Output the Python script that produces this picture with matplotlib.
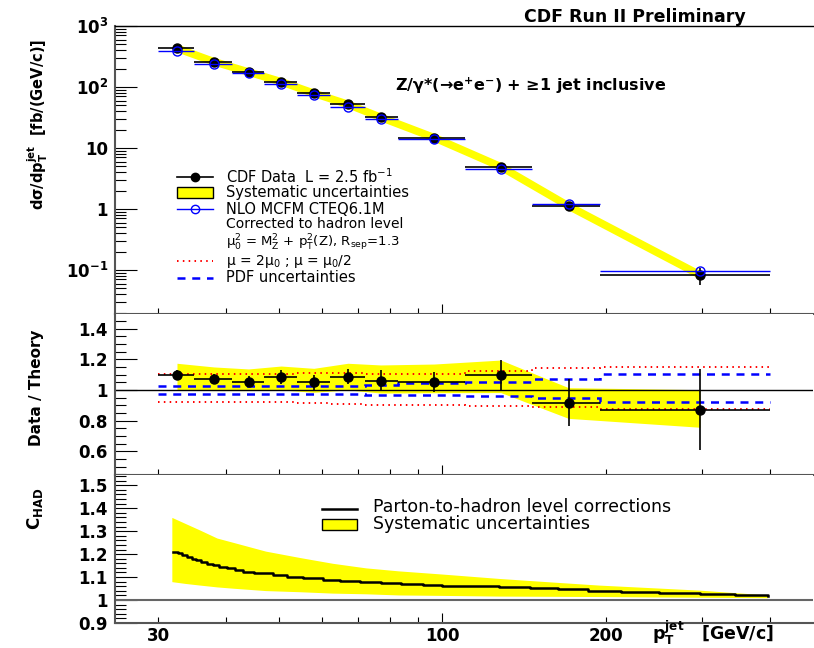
import numpy as np
import matplotlib
matplotlib.use("Agg")
import matplotlib.pyplot as plt
from matplotlib.lines import Line2D
from matplotlib.patches import Rectangle
from matplotlib.ticker import FixedLocator, FixedFormatter, FuncFormatter, MultipleLocator, LogLocator, NullFormatter

plt.rcParams['font.family'] = ['DejaVu Sans']
plt.rcParams['font.weight'] = 'bold'
plt.rcParams['mathtext.default'] = 'regular'

# jet pT bins [GeV/c]
bin_edges = [30, 35, 41, 47, 54, 62, 72, 83, 110, 146, 195, 400]
pt_center = [32.5, 38, 44, 50.5, 58, 67, 77, 96.5, 128, 170.5, 297.5]

# measured cross section [fb/(GeV/c)]
xsec_data = [431, 260, 176, 122, 79, 52, 31.8, 14.8, 4.93, 1.12, 0.083]

# data / theory
ratio = [1.098, 1.072, 1.054, 1.087, 1.050, 1.087, 1.061, 1.054, 1.098, 0.917, 0.870]
ratio_err = [0.033, 0.034, 0.037, 0.046, 0.049, 0.049, 0.068, 0.065, 0.100, 0.152, 0.264]
sys_hi = [1.174, 1.150, 1.137, 1.156, 1.141, 1.174, 1.163, 1.169, 1.195, 1.015, 1.002]
sys_lo = [1.000, 0.996, 0.996, 1.000, 0.985, 1.000, 0.980, 0.982, 0.983, 0.815, 0.757]
scale_up = [1.104, 1.104, 1.104, 1.104, 1.113, 1.113, 1.104, 1.104, 1.126, 1.141, 1.148]
scale_dn = [0.920, 0.920, 0.920, 0.920, 0.913, 0.907, 0.903, 0.903, 0.898, 0.891, 0.878]
pdf_up = [1.026, 1.026, 1.026, 1.026, 1.026, 1.026, 1.035, 1.043, 1.052, 1.070, 1.104]
pdf_dn = [0.974, 0.974, 0.974, 0.974, 0.974, 0.974, 0.970, 0.967, 0.961, 0.950, 0.924]

# parton-to-hadron corrections
chad_pt = [31.9, 32.6, 33.2, 33.9, 34.6, 35.3, 36.0, 36.9, 37.8, 38.8, 40.1, 41.5, 43.0,
           45.0, 48.8, 51.7, 55.5, 60.4, 64.8, 70.5, 77, 84, 92, 100, 112, 127, 145,
           163, 185, 213, 250, 297, 345, 396]
chad_val = [1.210, 1.206, 1.196, 1.188, 1.180, 1.174, 1.167, 1.159, 1.152, 1.145, 1.138,
            1.130, 1.123, 1.116, 1.109, 1.101, 1.094, 1.087, 1.083, 1.080, 1.076, 1.071,
            1.066, 1.062, 1.059, 1.056, 1.051, 1.046, 1.041, 1.035, 1.030, 1.025, 1.021,
            1.017]
band_pt = [31.8, 33.7, 35.8, 38.5, 41.4, 47.3, 54.7, 62.8, 72.3, 83, 100, 127, 160, 194,
           250, 297, 396]
band_hi = [1.360, 1.333, 1.305, 1.270, 1.250, 1.213, 1.185, 1.160, 1.140, 1.127, 1.113,
           1.094, 1.078, 1.065, 1.052, 1.043, 1.022]
band_lo = [1.080, 1.072, 1.065, 1.057, 1.051, 1.041, 1.036, 1.030, 1.027, 1.022, 1.020,
           1.017, 1.016, 1.015, 1.013, 1.012, 1.010]

pt = np.array(pt_center)
edges = np.array(bin_edges)
data = np.array(xsec_data)
rat = np.array(ratio)
theory = data / rat
xerr = [pt - edges[:-1], edges[1:] - pt]
data_err = data * np.array(ratio_err) / rat

W, H = 814, 648
fig = plt.figure(figsize=(W / 100, H / 100), dpi=100)

def fx(x):
    return x / W

def fy(y):
    return 1 - y / H

left, width = 115 / W, 698 / W
ax1 = fig.add_axes([left, fy(314), width, 288 / H])
ax2 = fig.add_axes([left, fy(475), width, 161 / H])
ax3 = fig.add_axes([left, fy(623), width, 148 / H])

for ax in (ax1, ax2, ax3):
    ax.set_xscale('log')
    ax.set_xlim(25, 480)
    ax.spines['right'].set_visible(False)
    ax.spines['top'].set_visible(False)
    for s in ('left', 'bottom'):
        ax.spines[s].set_color('#555555')
        ax.spines[s].set_linewidth(1.5)
    ax.xaxis.set_major_locator(FixedLocator([100]))
    ax.xaxis.set_minor_locator(FixedLocator([30, 40, 50, 60, 70, 80, 90, 200, 300, 400]))
    ax.tick_params(which='both', direction='in', top=False, right=False, width=0.8,
                   labelsize=12)
    ax.tick_params(axis='y', which='major', length=16, pad=5)
    ax.tick_params(axis='y', which='minor', length=8)
    ax.tick_params(axis='x', which='major', length=7, pad=3)
    ax.tick_params(axis='x', which='minor', length=4, pad=3)

ax1.spines['top'].set_visible(True)
ax1.spines['top'].set_color('black')
ax1.spines['top'].set_linewidth(1.0)
ax1.tick_params(axis='x', which='both', labelbottom=False)
ax2.tick_params(axis='x', which='both', labelbottom=False)
ax3.xaxis.set_major_formatter(FuncFormatter(lambda v, p: f"{v:g}"))
ax3.xaxis.set_minor_formatter(FuncFormatter(lambda v, p: f"{v:g}" if v in (30, 200) else ""))

# ---- top panel: cross section
ax1.set_yscale('log')
ax1.set_ylim(10 ** -1.721, 1000)
ax1.yaxis.set_major_locator(FixedLocator([0.1, 1, 10, 100, 1000]))
ax1.yaxis.set_major_formatter(FixedFormatter([r"$10^{-1}$", "1", "10", r"$10^{2}$", r"$10^{3}$"]))
ax1.yaxis.set_minor_locator(LogLocator(base=10, subs=np.arange(2, 10), numticks=20))
ax1.yaxis.set_minor_formatter(NullFormatter())

ax1.plot(pt, data, color='#ffff00', lw=5.5, solid_capstyle='butt', zorder=1)
ax1.errorbar(pt, data, xerr=xerr, yerr=data_err, fmt='o', color='black', ms=6.5,
             elinewidth=1.2, capsize=0, zorder=3)
ax1.errorbar(pt, theory, xerr=xerr, fmt='o', mfc='none', mec='blue', ecolor='blue',
             ms=6.5, mew=1.0, elinewidth=1.0, capsize=0, zorder=4)

# ---- ratio panel
ax2.set_ylim(0.446, 1.495)
ax2.yaxis.set_major_locator(FixedLocator([0.6, 0.8, 1.0, 1.2, 1.4]))
ax2.yaxis.set_major_formatter(FixedFormatter(["0.6", "0.8", "1", "1.2", "1.4"]))
ax2.yaxis.set_minor_locator(MultipleLocator(0.05))

ax2.fill_between(pt, sys_lo, sys_hi, color='#ffff00', lw=0, zorder=1)
ax2.axhline(1.0, color='black', lw=1.0, zorder=2)
ax2.stairs(scale_up, edges, baseline=None, color='red', lw=1.4, ls=(0, (0.8, 2.2)), zorder=3)
ax2.stairs(scale_dn, edges, baseline=None, color='red', lw=1.4, ls=(0, (0.8, 2.2)), zorder=3)
ax2.stairs(pdf_up, edges, baseline=None, color='blue', lw=1.8, ls=(0, (3.2, 2.7)), zorder=3)
ax2.stairs(pdf_dn, edges, baseline=None, color='blue', lw=1.8, ls=(0, (3.2, 2.7)), zorder=3)
ax2.errorbar(pt, rat, xerr=xerr, yerr=ratio_err, fmt='o', color='black', ms=6.5,
             elinewidth=1.2, capsize=0, zorder=4)

# ---- hadronization panel
ax3.set_ylim(0.8998, 1.5447)
ax3.yaxis.set_major_locator(FixedLocator([0.9, 1.0, 1.1, 1.2, 1.3, 1.4, 1.5]))
ax3.yaxis.set_major_formatter(FixedFormatter(["0.9", "1", "1.1", "1.2", "1.3", "1.4", "1.5"]))
ax3.yaxis.set_minor_locator(MultipleLocator(0.02))

ax3.fill_between(band_pt, band_lo, band_hi, color='#ffff00', lw=0, zorder=1)
ax3.axhline(1.0, color='#666666', lw=1.5, zorder=2)
ax3.step(chad_pt, chad_val, where='post', color='black', lw=1.8, zorder=3)

# ---- legends (drawn by hand, ROOT style)
def leg_text(x, y, s, size=10.5):
    fig.text(fx(x), fy(y), s, ha='left', va='center', fontsize=size, fontweight='normal')

hx0, hx1, tx = 177, 213, 226
rows = [176.7, 192.7, 209, 224.5, 242.5, 261, 277.5]
fig.add_artist(Line2D([fx(hx0), fx(hx1)], [fy(rows[0])] * 2, color='black', lw=1.2,
                      transform=fig.transFigure))
fig.add_artist(Line2D([fx((hx0 + hx1) / 2)], [fy(rows[0])], marker='o', color='black',
                      ms=6, transform=fig.transFigure))
fig.add_artist(Rectangle((fx(hx0), fy(rows[1] + 5.5)), fx(hx1 - hx0), 11 / H,
                         facecolor='#ffff00', edgecolor='black', lw=1.0,
                         transform=fig.transFigure))
fig.add_artist(Line2D([fx(hx0), fx(hx1)], [fy(rows[2])] * 2, color='blue', lw=1.0,
                      transform=fig.transFigure))
fig.add_artist(Line2D([fx((hx0 + hx1) / 2)], [fy(rows[2])], marker='o', mfc='none',
                      mec='blue', ms=6, transform=fig.transFigure))
fig.add_artist(Line2D([fx(hx0), fx(hx1)], [fy(rows[5])] * 2, color='red', lw=1.4,
                      ls=(0, (0.8, 2.2)), transform=fig.transFigure))
fig.add_artist(Line2D([fx(hx0), fx(hx1)], [fy(rows[6])] * 2, color='blue', lw=1.8,
                      ls=(0, (3.2, 2.7)), transform=fig.transFigure))
labels = [r"CDF Data  L = 2.5 fb$^{-1}$",
          "Systematic uncertainties",
          "NLO MCFM CTEQ6.1M",
          "Corrected to hadron level",
          r"$\mu_{0}^{2}$ = M$_{Z}^{2}$ + p$_{T}^{2}$(Z), R$_{sep}$=1.3",
          r"$\mu$ = 2$\mu_{0}$ ; $\mu$ = $\mu_{0}$/2",
          "PDF uncertainties"]
sizes = [10.5, 10.5, 10.5, 10, 9.5, 10, 10.5]
for r, s, fs in zip(rows, labels, sizes):
    leg_text(tx, r, s, fs)

fig.add_artist(Line2D([fx(322), fx(357)], [fy(509)] * 2, color='black', lw=1.8,
                      transform=fig.transFigure))
fig.add_artist(Rectangle((fx(322), fy(529.5)), fx(35), 11 / H, facecolor='#ffff00',
                         edgecolor='black', lw=1.0, transform=fig.transFigure))
leg_text(373, 507, "Parton-to-hadron level corrections", 12.5)
leg_text(373, 524, "Systematic uncertainties", 12.5)

# ---- titles and axis labels
fig.text(fx(635), fy(21.7), "CDF Run II Preliminary", ha='center', va='baseline', fontsize=12.5)
fig.text(fx(531), fy(90.7), "Z/γ*(→e$^{+}$e$^{-}$) + ≥1 jet inclusive",
         ha='center', va='baseline', fontsize=11.5)
fig.text(fx(38), fy(39), r"d$\sigma$/dp$_{T}^{jet}$  [fb/(GeV/c)]", rotation=90,
         ha='center', va='top', fontsize=10.5)
fig.text(fx(37), fy(330), "Data / Theory", rotation=90, ha='center', va='top', fontsize=11)
fig.text(fx(35), fy(488), r"C$_{HAD}$", rotation=90, ha='center', va='top', fontsize=12)
fig.text(fx(652), fy(640), r"p$_{T}^{jet}$   [GeV/c]", ha='left', va='baseline', fontsize=12.5)

fig.savefig("out.png", dpi=100)
